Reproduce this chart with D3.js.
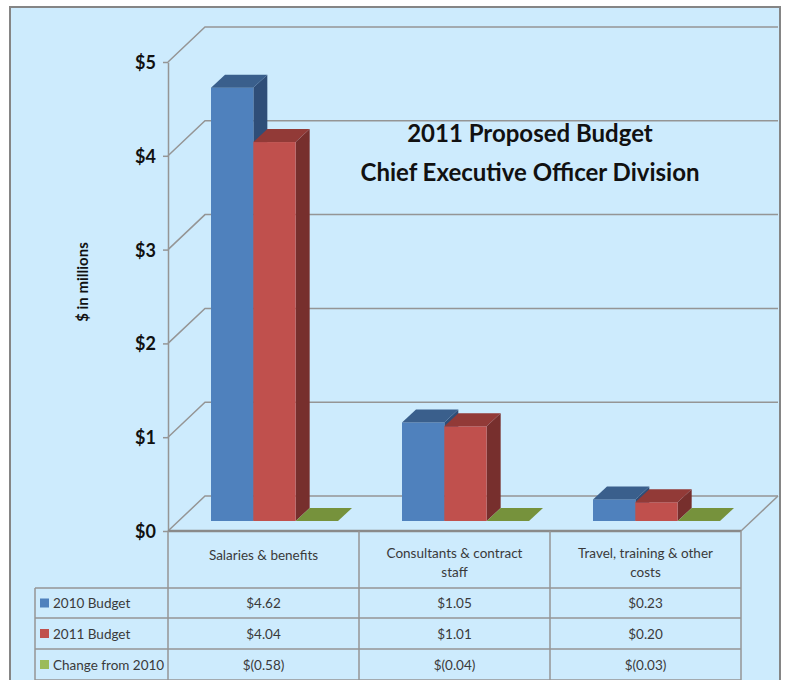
<!DOCTYPE html>
<html>
<head>
<meta charset="utf-8">
<script src="https://cdn.jsdelivr.net/npm/d3@7"></script>
<style>
  body { margin: 0; background: #fff; }
  svg { display: block; }
  text { font-family: Lato, "Open Sans", sans-serif; }
</style>
</head>
<body>
<div id="chart"></div>
<script>
// data
var categories = ["Salaries & benefits", "Consultants & contract staff", "Travel, training & other costs"];
var categoryLines = [["Salaries & benefits"], ["Consultants & contract", "staff"], ["Travel, training & other", "costs"]];
var seriesNames = ["2010 Budget", "2011 Budget", "Change from 2010"];
var budget2010 = [4.62, 1.05, 0.23];
var budget2011 = [4.04, 1.01, 0.20];
var change2010 = [-0.58, -0.04, -0.03];
var yTicks = [0, 1, 2, 3, 4, 5];
var titleLines = ["2011 Proposed Budget", "Chief Executive Officer Division"];
var yLabel = "$ in millions";

var values = [budget2010, budget2011, change2010];
var colors = [
  {front: "#4f81bd", top: "#3a5f8c", side: "#2f4e78"},
  {front: "#c0504d", top: "#923a37", side: "#772f2d"},
  {front: "#9bbb59", top: "#76923c", side: "#5f7830"}
];

var w = 789, h = 680,
    left = 168, right = 741,
    depth = {x: 37, y: -35},
    shift = {x: 11, y: -10},
    barD = {x: 14, y: -13},
    grid = "#959595";

var svg = d3.select("#chart").append("svg")
    .attr("width", w)
    .attr("height", h);

// frame
svg.append("rect")
    .attr("x", 10).attr("y", 7)
    .attr("width", 770).attr("height", 700)
    .attr("fill", "#cdebfd")
    .attr("stroke", "#858585")
    .attr("stroke-width", 2);

var y = d3.scaleLinear().domain([0, 5]).range([531, 62]);
var x = d3.scaleBand().domain(categories).range([left, right]);
var x1 = d3.scaleBand().domain(seriesNames).range([0, 127]);
var pad = (x.bandwidth() - 127) / 2;

// walls and gridlines
svg.selectAll("path.grid")
    .data(yTicks)
  .enter().append("path")
    .attr("class", "grid")
    .attr("fill", "none")
    .attr("stroke", grid)
    .attr("stroke-width", 1.5)
    .attr("d", function(d) {
      return "M" + left + "," + y(d)
          + "L" + (left + depth.x) + "," + (y(d) + depth.y)
          + "H" + (right + depth.x);
    });

svg.append("path")
    .attr("fill", "none")
    .attr("stroke", grid)
    .attr("stroke-width", 1.5)
    .attr("d", "M" + (right + depth.x) + "," + (y(0) + depth.y) + "L" + right + "," + y(0));

// y axis
var axis = svg.append("g")
    .attr("transform", "translate(" + left + ",0)")
    .call(d3.axisLeft(y).tickValues(yTicks).tickSize(5).tickSizeOuter(0)
      .tickFormat(function(d) { return "$" + d; }));
axis.select(".domain").attr("stroke", grid).attr("stroke-width", 1.5);
axis.selectAll(".tick line").attr("stroke", grid).attr("stroke-width", 1.5);
axis.selectAll(".tick text")
    .attr("x", -12)
    .attr("dy", "0.36em")
    .attr("fill", "#111")
    .style("font-size", "18px")
    .style("font-weight", "bold");

svg.append("text")
    .attr("transform", "translate(88,282)rotate(-90)")
    .attr("text-anchor", "middle")
    .style("font-size", "15px")
    .style("font-weight", "bold")
    .attr("fill", "#111")
    .text(yLabel);

// bars
var bars = [];
categories.forEach(function(c, i) {
  seriesNames.forEach(function(s, j) {
    bars.push({cat: c, series: s, j: j, v: Math.max(0, values[j][i])});
  });
});

var bw = x1.bandwidth();
var g = svg.selectAll("g.bar")
    .data(bars)
  .enter().append("g")
    .attr("class", "bar");

function bx(d) { return x(d.cat) + pad + x1(d.series) + shift.x; }
var base = y(0) + shift.y;

g.append("path")
    .attr("fill", function(d) { return colors[d.j].side; })
    .attr("d", function(d) {
      var x0 = bx(d) + bw, y0 = y(d.v) + shift.y;
      return "M" + x0 + "," + y0 + "l" + barD.x + "," + barD.y
          + "V" + (base + barD.y) + "l" + (-barD.x) + "," + (-barD.y) + "Z";
    });

g.append("rect")
    .attr("x", bx)
    .attr("y", function(d) { return y(d.v) + shift.y; })
    .attr("width", bw)
    .attr("height", function(d) { return base - (y(d.v) + shift.y); })
    .attr("fill", function(d) { return colors[d.j].front; });

g.append("path")
    .attr("fill", function(d) { return colors[d.j].top; })
    .attr("d", function(d) {
      var x0 = bx(d), y0 = y(d.v) + shift.y;
      return "M" + x0 + "," + y0 + "h" + bw + "l" + barD.x + "," + barD.y
          + "h" + (-bw) + "Z";
    });

// title
svg.selectAll("text.title")
    .data(titleLines)
  .enter().append("text")
    .attr("class", "title")
    .attr("x", 530)
    .attr("y", function(d, i) { return 142 + i * 39; })
    .attr("text-anchor", "middle")
    .attr("fill", "#111")
    .style("font-size", "24px")
    .style("font-weight", "bold")
    .text(function(d) { return d; });

// data table
var rowY = [588, 618, 649, 680];
var table = svg.append("g")
    .attr("fill", "none")
    .attr("stroke", grid)
    .attr("stroke-width", 1.5);

table.append("path")
    .attr("stroke", "#8a8a8a")
    .attr("stroke-width", 2.5)
    .attr("d", "M" + left + "," + y(0) + "H" + right);

table.selectAll("path.h")
    .data(rowY)
  .enter().append("path")
    .attr("d", function(d) { return "M35," + d + "H" + right; });

var colX = categories.map(function(c) { return x(c); }).concat([right]);
table.selectAll("path.v")
    .data(colX)
  .enter().append("path")
    .attr("d", function(d) { return "M" + d + "," + y(0) + "V" + rowY[3]; });

table.append("path")
    .attr("d", "M35," + rowY[0] + "V" + rowY[3]);

svg.selectAll("text.cat")
    .data(categoryLines)
  .enter().append("text")
    .attr("class", "cat")
    .attr("text-anchor", "middle")
    .attr("fill", "#3a3a3a")
    .style("font-size", "13.5px")
    .each(function(d, i) {
      d3.select(this).selectAll("tspan")
          .data(d)
        .enter().append("tspan")
          .attr("x", x(categories[i]) + x.bandwidth() / 2)
          .attr("y", function(t, k) { return (d.length > 1 ? 558 : 560) + k * 19; })
          .text(function(t) { return t; });
    });

function fmt(v) {
  return v < 0 ? "$(" + Math.abs(v).toFixed(2) + ")" : "$" + v.toFixed(2);
}

seriesNames.forEach(function(s, j) {
  var ry = (rowY[j] + rowY[j + 1]) / 2;
  svg.append("rect")
      .attr("x", 40).attr("y", ry - 4.5)
      .attr("width", 9).attr("height", 9)
      .attr("fill", colors[j].front);
  svg.append("text")
      .attr("x", 53).attr("y", ry + 5)
      .attr("fill", "#3a3a3a")
      .style("font-size", "13.5px")
      .text(s);
  svg.selectAll(null)
      .data(values[j])
    .enter().append("text")
      .attr("x", function(v, i) { return x(categories[i]) + x.bandwidth() / 2; })
      .attr("y", ry + 5)
      .attr("text-anchor", "middle")
      .attr("fill", "#3a3a3a")
      .style("font-size", "13.5px")
      .text(fmt);
});
</script>
</body>
</html>
